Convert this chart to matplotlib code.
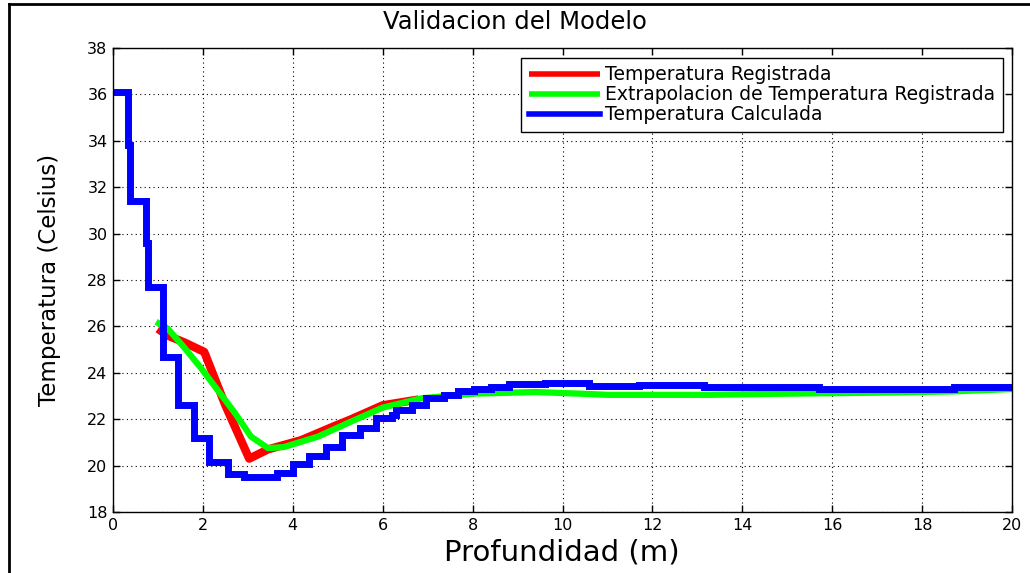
import matplotlib
matplotlib.use("Agg")
import matplotlib.pyplot as plt
from matplotlib.lines import Line2D

# depth (m) and temperature (Celsius) series
reg_x = [1.0, 1.22, 1.6, 2.03, 2.5, 3.03, 3.45, 4.19, 4.92, 5.3, 6.0, 6.8]
reg_y = [25.9, 25.6, 25.3, 24.9, 22.6, 20.3, 20.7, 21.1, 21.7, 22.0, 22.6, 22.85]

ext_x = [0.96, 1.22, 1.58, 1.96, 2.33, 2.7, 3.07, 3.45, 3.8, 4.56, 5.3, 6.0, 6.86,
         8.0, 9.4, 10.4, 11.0, 13.3, 15.0, 17.3, 18.7, 20.0]
ext_y = [26.2, 25.9, 25.1, 24.2, 23.25, 22.3, 21.25, 20.75, 20.8, 21.25, 21.9, 22.5, 22.9,
         23.1, 23.17, 23.1, 23.05, 23.05, 23.1, 23.15, 23.2, 23.3]

# calculated profile, piecewise constant (value holds until the next depth)
calc_x = [0.0, 0.33, 0.37, 0.73, 0.77, 1.11, 1.45, 1.8, 2.14, 2.56, 2.92, 3.65, 4.0,
          4.37, 4.74, 5.1, 5.5, 5.85, 6.2, 6.3, 6.65, 6.97, 7.37, 7.68, 8.04, 8.42,
          8.8, 9.6, 10.6, 11.7, 13.15, 15.7, 18.7, 20.0]
calc_y = [36.1, 33.8, 31.4, 29.6, 27.7, 24.7, 22.6, 21.2, 20.15, 19.65, 19.5, 19.7, 20.05,
          20.4, 20.8, 21.3, 21.6, 22.05, 22.2, 22.4, 22.6, 22.9, 23.05, 23.2, 23.3, 23.4,
          23.5, 23.55, 23.45, 23.47, 23.4, 23.3, 23.4, 23.4]

xticks = list(range(0, 21, 2))
yticks = list(range(18, 39, 2))

W, H = 1030, 573
fig = plt.figure(figsize=(W / 100, H / 100), dpi=100)
ax = fig.add_axes([113 / W, (H - 512) / H, (1012 - 113) / W, (512 - 48) / H])

ax.plot(reg_x, reg_y, color="#ff0000", lw=6, solid_capstyle="butt",
        label="Temperatura Registrada")
ax.plot(ext_x, ext_y, color="#00ff00", lw=4.5, solid_capstyle="butt",
        label="Extrapolacion de Temperatura Registrada")
ax.plot(calc_x, calc_y, color="#0000ff", lw=5, drawstyle="steps-post",
        solid_joinstyle="miter", label="Temperatura Calculada")

ax.set_xlim(0, 20)
ax.set_ylim(18, 38)
ax.set_xticks(xticks)
ax.set_yticks(yticks)
ax.grid(True, color="black", linestyle=(0, (1, 3)), linewidth=0.8)
ax.tick_params(direction="in", top=True, right=True, length=5, width=1,
               labelsize=11.5, colors="black", pad=4)
for lbl in ax.get_xticklabels() + ax.get_yticklabels():
    lbl.set_family("DejaVu Sans")
for s in ax.spines.values():
    s.set_linewidth(1.0)

leg = ax.legend(loc="upper right", bbox_to_anchor=(1 - 9 / 899, 1 - 10 / 464),
                fancybox=False, framealpha=1, edgecolor="black",
                prop={"family": "DejaVu Sans", "size": 13.5},
                handlelength=3.8, handletextpad=0.3, borderpad=0.4,
                labelspacing=0.05, borderaxespad=0)
leg.get_frame().set_linewidth(1.0)
for h in leg.get_lines():
    h.set_linewidth(4)

fig.text(0.5, 1 - 22 / H, "Validacion del Modelo", ha="center", va="center",
         fontsize=17.5, family="DejaVu Sans")
fig.text(562 / W, 1 - 552 / H, "Profundidad (m)", ha="center", va="center",
         fontsize=21, family="DejaVu Sans")
fig.text(50 / W, 1 - 280 / H, "Temperatura (Celsius)", ha="center", va="center",
         rotation=90, fontsize=16.5, family="DejaVu Sans")

# outer frame (only left and top edges fall inside the image)
fig.add_artist(Line2D([9 / W, 9 / W], [-0.1, 1 - 4 / H], transform=fig.transFigure,
                      color="black", lw=2))
fig.add_artist(Line2D([9 / W, 1.1], [1 - 4 / H, 1 - 4 / H], transform=fig.transFigure,
                      color="black", lw=2))

fig.savefig("out.png", dpi=100)
